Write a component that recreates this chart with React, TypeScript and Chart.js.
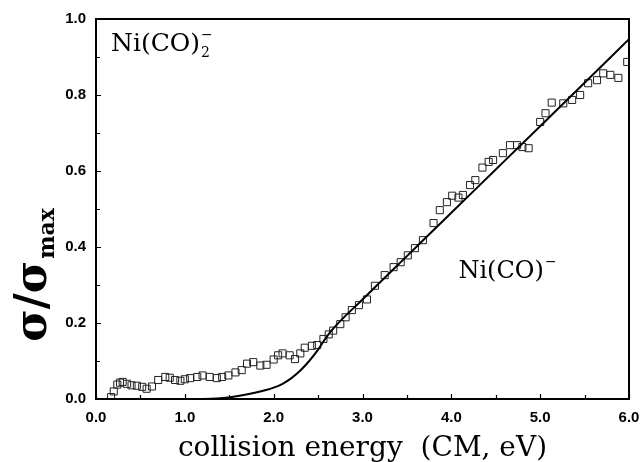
import React, { useEffect, useRef } from 'react';
import { Chart, registerables } from 'chart.js';

Chart.register(...registerables);

// measured cross-section, Ni(CO)- from Ni(CO)2- (open squares)
const energy = [
  0.17, 0.2, 0.24, 0.27, 0.3, 0.35, 0.4, 0.46, 0.52, 0.57, 0.63, 0.7, 0.78, 0.83, 0.89, 0.95,
  1.0, 1.06, 1.14, 1.2, 1.28, 1.36, 1.42, 1.49, 1.57, 1.64, 1.7, 1.77, 1.85, 1.92, 2.0, 2.05,
  2.1, 2.18, 2.24, 2.3, 2.35, 2.43, 2.49, 2.56, 2.62, 2.67, 2.75, 2.81, 2.88, 2.96, 3.05, 3.14,
  3.25, 3.35, 3.43, 3.51, 3.59, 3.68, 3.8, 3.87, 3.95, 4.01, 4.08, 4.13, 4.21, 4.27, 4.35, 4.42,
  4.47, 4.58, 4.66, 4.74, 4.8, 4.87, 5.0, 5.06, 5.13, 5.26, 5.36, 5.45, 5.54, 5.64, 5.71, 5.79,
  5.88, 5.98,
];
const sigma = [
  0.005, 0.02, 0.038, 0.043, 0.045, 0.04, 0.036, 0.035, 0.032, 0.027, 0.033, 0.05, 0.058, 0.056, 0.05, 0.048,
  0.052, 0.055, 0.058, 0.062, 0.058, 0.055, 0.058, 0.062, 0.07, 0.076, 0.093, 0.097, 0.088, 0.09, 0.104, 0.115,
  0.12, 0.115, 0.105, 0.12, 0.135, 0.14, 0.142, 0.158, 0.17, 0.18, 0.197, 0.215, 0.234, 0.247, 0.262, 0.298,
  0.326, 0.347, 0.36, 0.378, 0.397, 0.418, 0.463, 0.497, 0.518, 0.535, 0.53, 0.537, 0.563, 0.576, 0.609, 0.624,
  0.629, 0.647, 0.668, 0.668, 0.663, 0.66, 0.729, 0.752, 0.78, 0.778, 0.787, 0.8, 0.831, 0.839, 0.857, 0.853,
  0.845, 0.887,
];

// model fit (solid line)
const fitEnergy = [0, 1.0, 1.2, 1.4, 1.6, 1.8, 2.0, 2.1, 2.2, 2.3, 2.4, 2.5, 2.6, 2.7, 3.0, 3.5, 4.0, 4.5, 5.0, 5.5, 6.0];
const fitSigma = [0, 0, 0, 0.002, 0.008, 0.017, 0.03, 0.04, 0.055, 0.075, 0.1, 0.13, 0.165, 0.193, 0.262, 0.376, 0.49, 0.604, 0.718, 0.832, 0.947];

const xTickValues = [0, 1, 2, 3, 4, 5, 6];
const xMinorValues = [0.5, 1.5, 2.5, 3.5, 4.5, 5.5];
const yTickValues = [0, 0.2, 0.4, 0.6, 0.8, 1.0];
const yMinorValues = [0.1, 0.3, 0.5, 0.7, 0.9];

const xTitle = 'collision energy  (CM, eV)';
const parentLabel = 'Ni(CO)';
const productLabel = 'Ni(CO)';

const framePlugin = {
  id: 'frameAndLabels',
  afterDraw(chart: any) {
    const { ctx, chartArea } = chart;
    const { left, right, top, bottom } = chartArea;
    const xs = chart.scales.x;
    const ys = chart.scales.y;
    ctx.save();
    ctx.strokeStyle = '#000';
    ctx.lineWidth = 2;
    ctx.strokeRect(left, top, right - left, bottom - top);
    ctx.lineWidth = 1.2;
    ctx.beginPath();
    xTickValues.forEach((v) => {
      const p = Math.round(xs.getPixelForValue(v)) + 0.5;
      ctx.moveTo(p, bottom); ctx.lineTo(p, bottom - 5);
    });
    xMinorValues.forEach((v) => {
      const p = Math.round(xs.getPixelForValue(v)) + 0.5;
      ctx.moveTo(p, bottom); ctx.lineTo(p, bottom - 4);
    });
    yTickValues.forEach((v) => {
      const p = Math.round(ys.getPixelForValue(v)) + 0.5;
      ctx.moveTo(left, p); ctx.lineTo(left + 5, p);
    });
    yMinorValues.forEach((v) => {
      const p = Math.round(ys.getPixelForValue(v)) + 0.5;
      ctx.moveTo(left, p); ctx.lineTo(left + 4, p);
    });
    ctx.stroke();

    // annotations
    ctx.fillStyle = '#000';
    ctx.textBaseline = 'alphabetic';
    ctx.textAlign = 'left';
    // parent ion label
    let x0 = xs.getPixelForValue(0.17);
    let y0 = ys.getPixelForValue(0.915);
    ctx.font = '25px "DejaVu Serif"';
    ctx.fillText(parentLabel, x0, y0);
    let w = ctx.measureText(parentLabel).width;
    ctx.font = '14px "DejaVu Serif"';
    ctx.fillText('2', x0 + w + 1, y0 + 6);
    ctx.fillText('\u2212', x0 + w + 1, y0 - 12);
    // product ion label
    x0 = xs.getPixelForValue(4.08);
    y0 = ys.getPixelForValue(0.318);
    ctx.font = '24px "DejaVu Serif"';
    ctx.fillText(productLabel, x0, y0);
    w = ctx.measureText(productLabel).width;
    ctx.font = '14px "DejaVu Serif"';
    ctx.fillText('\u2212', x0 + w + 1, y0 - 12);

    // y axis title sigma / sigma_max
    ctx.translate(34, 275);
    ctx.rotate(-Math.PI / 2);
    ctx.font = 'bold 44px "DejaVu Serif"';
    const main = '\u03c3/\u03c3';
    const mw = ctx.measureText(main).width;
    ctx.font = 'bold 22px "DejaVu Serif"';
    const sub = 'max';
    const sw = ctx.measureText(sub).width;
    const total = mw + sw + 2;
    ctx.font = 'bold 44px "DejaVu Serif"';
    ctx.fillText(main, -total / 2, 12);
    ctx.font = 'bold 22px "DejaVu Serif"';
    ctx.fillText(sub, -total / 2 + mw + 2, 20);
    ctx.restore();
  },
};

export default function App() {
  const ref = useRef<HTMLCanvasElement | null>(null);
  useEffect(() => {
    if (!ref.current) return;
    const tickFont = { family: '"Liberation Sans", Arial, sans-serif', size: 15, weight: 'bold' as const };
    const chart = new Chart(ref.current, {
      type: 'scatter',
      data: {
        datasets: [
          {
            label: 'fit',
            type: 'line',
            data: fitEnergy.map((x, i) => ({ x, y: fitSigma[i] })),
            borderColor: '#000',
            borderWidth: 2,
            pointRadius: 0,
            fill: false,
            cubicInterpolationMode: 'monotone',
          } as any,
          {
            label: 'data',
            data: energy.map((x, i) => ({ x, y: sigma[i] })),
            pointStyle: 'rect',
            pointRadius: 5,
            borderColor: '#222',
            borderWidth: 1,
            backgroundColor: 'rgba(0,0,0,0)',
          },
        ],
      },
      options: {
        animation: false,
        responsive: false,
        layout: { padding: { left: 0, right: 15, top: 18, bottom: 0 } },
        plugins: { legend: { display: false }, tooltip: { enabled: false } },
        scales: {
          x: {
            type: 'linear',
            min: 0,
            max: 6,
            grid: { display: false, drawTicks: false },
            border: { display: false },
            afterBuildTicks: (s: any) => { s.ticks = xTickValues.map((v) => ({ value: v })); },
            afterFit: (s: any) => { s.height = 63; s.paddingRight = 0; s.paddingLeft = 0; },
            ticks: {
              color: '#000',
              font: tickFont,
              padding: 10,
              maxRotation: 0,
              callback: (v: any) => Number(v).toFixed(1),
            },
            title: {
              display: true,
              text: xTitle,
              color: '#000',
              font: { family: '"DejaVu Serif", serif', size: 28 },
              padding: { top: 0, bottom: -4 },
            },
          },
          y: {
            type: 'linear',
            min: 0,
            max: 1,
            grid: { display: false, drawTicks: false },
            border: { display: false },
            afterBuildTicks: (s: any) => { s.ticks = yTickValues.map((v) => ({ value: v })); },
            afterFit: (s: any) => { s.width = 96; },
            ticks: {
              color: '#000',
              font: tickFont,
              padding: 10,
              callback: (v: any) => Number(v).toFixed(1),
            },
          },
        },
      },
      plugins: [framePlugin],
    });
    return () => chart.destroy();
  }, []);
  return (
    <div style={{ position: 'absolute', left: 0, top: 0, width: 644, height: 462, background: '#fff' }}>
      <canvas ref={ref} width={644} height={462} />
    </div>
  );
}
